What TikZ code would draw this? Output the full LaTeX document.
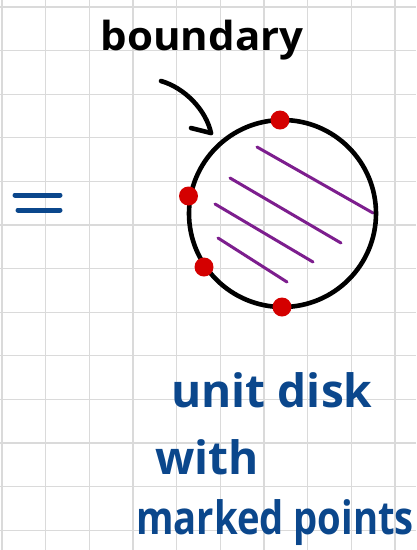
\documentclass[tikz,border=0pt]{standalone}
\usepackage{fontspec}
\setmainfont{Open Sans}
\definecolor{gridgray}{HTML}{DADADA}
\definecolor{inkblue}{HTML}{0B478C}
\definecolor{inkred}{HTML}{D40000}
\definecolor{inkpurple}{HTML}{7D1E8E}
\tikzset{
  gridline/.style={draw=gridgray, line width=1.3pt},
  disk/.style={circle, draw=black, line width=4.6pt, minimum size=187pt, inner sep=0pt},
  markpt/.style={circle, fill=inkred, minimum size=19pt, inner sep=0pt},
  hatch/.style={draw=inkpurple, line width=3pt, line cap=round},
  eqline/.style={draw=inkblue, line width=5pt, line cap=round},
  pointer/.style={draw=black, line width=4.6pt, line cap=round, line join=round},
  bluetext/.style={text=inkblue, font=\bfseries, inner sep=0pt},
  blacktext/.style={text=black, font=\bfseries, inner sep=0pt}
}
\begin{document}
\begin{tikzpicture}[x=1pt,y=-1pt]
\useasboundingbox (0,0) rectangle (416,550);
\fill[white] (0,0) rectangle (416,550);
\foreach \i in {0,...,9} \draw[gridline] ({2+43.65*\i},0) -- ({2+43.65*\i},550);
\foreach \j in {0,...,12} \draw[gridline] (0,{7+43.6*\j}) -- (416,{7+43.6*\j});

% hatching
\draw[hatch] (257,147) -- (373,213);
\draw[hatch] (230,178) -- (341,243);
\draw[hatch] (215,204) -- (313,262);
\draw[hatch] (218,238) -- (287,282);

\node[disk] (disk) at (282.5,213.5) {};

\node[markpt] (p1) at (280,120) {};
\node[markpt] (p2) at (188.5,196) {};
\node[markpt] (p3) at (204,267) {};
\node[markpt] (p4) at (282,307) {};

% equals sign
\coordinate (e1a) at (15,195); \coordinate (e1b) at (60,195);
\coordinate (e2a) at (18,210); \coordinate (e2b) at (60,210);
\draw[eqline] (e1a) -- (e1b);
\draw[eqline] (e2a) -- (e2b);

% label and arrow
\node[blacktext, font=\bfseries\fontsize{40}{40}\selectfont] (bnd) at (202,40) {\scalebox{1.05}[1]{boundary}};
\coordinate (as) at (161,81);
\coordinate (at) at (211,133);
\coordinate (ab) at (191,128);
\draw[pointer] (as) .. controls (185,88) and (206,110) .. (at);
\draw[pointer] (ab) -- (at);

\node[bluetext, font=\bfseries\fontsize{46}{46}\selectfont] (t1) at (272,390) {unit disk};
\node[bluetext, font=\bfseries\fontsize{46}{46}\selectfont] (t2) at (207,457) {with};
\node[bluetext, font=\bfseries\fontsize{46}{46}\selectfont] (t3) at (275,523) {\scalebox{0.83}[1]{marked points}};
\end{tikzpicture}
\end{document}
